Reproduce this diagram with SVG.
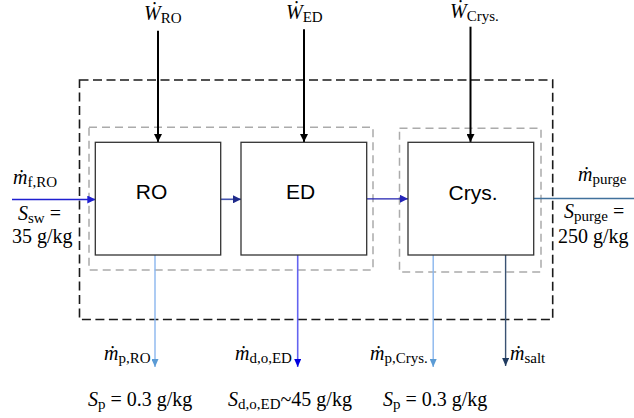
<svg xmlns="http://www.w3.org/2000/svg" width="634" height="418" viewBox="0 0 634 418">
<style>
.box{fill:#fff;stroke:#333;stroke-width:1.3}
.outer{fill:none;stroke:#1a1a1a;stroke-width:1.6;stroke-dasharray:9 4.5}
.sub{fill:none;stroke:#ababab;stroke-width:1.5;stroke-dasharray:8 5}
.lbl{font-family:"Liberation Sans",Arial,sans-serif;font-size:21px;fill:#000;text-anchor:middle}
.m{font-family:"Liberation Serif","DejaVu Serif",serif;font-size:20px;fill:#000}
.i{font-style:italic}
.s{font-size:15px}
.w{stroke:#000;stroke-width:2;fill:none}
</style>
<defs>
<marker id="hk" viewBox="0 0 8 8" refX="8" refY="4" markerWidth="8" markerHeight="8" markerUnits="userSpaceOnUse" orient="auto"><path d="M0,0L8,4L0,8z" fill="#000"/></marker>
<marker id="hb" viewBox="0 0 8 8" refX="8" refY="4" markerWidth="8" markerHeight="8" markerUnits="userSpaceOnUse" orient="auto"><path d="M0,0L8,4L0,8z" fill="#1f1fd0"/></marker>
<marker id="hn" viewBox="0 0 8 8" refX="8" refY="4" markerWidth="8" markerHeight="8" markerUnits="userSpaceOnUse" orient="auto"><path d="M0,0L8,4L0,8z" fill="#1f2a8a"/></marker>
<marker id="hd" viewBox="0 0 8 8" refX="8" refY="4" markerWidth="8" markerHeight="8" markerUnits="userSpaceOnUse" orient="auto"><path d="M0,0L8,4L0,8z" fill="#2424b8"/></marker>
<marker id="hl" viewBox="0 0 8 7" refX="8" refY="3.5" markerWidth="8" markerHeight="7" markerUnits="userSpaceOnUse" orient="auto"><path d="M0,0L8,3.5L0,7z" fill="#5b9bd5"/></marker>
<marker id="hv" viewBox="0 0 8 7" refX="8" refY="3.5" markerWidth="8" markerHeight="7" markerUnits="userSpaceOnUse" orient="auto"><path d="M0,0L8,3.5L0,7z" fill="#0000e0"/></marker>
<marker id="hs" viewBox="0 0 8 7" refX="8" refY="3.5" markerWidth="8" markerHeight="7" markerUnits="userSpaceOnUse" orient="auto"><path d="M0,0L8,3.5L0,7z" fill="#1f3a5f"/></marker>
</defs>
<rect width="634" height="418" fill="#fff"/>

<g id="boundary">
<rect class="outer" x="79.5" y="80" width="473.2" height="239.5"/>
<rect class="sub" x="89" y="127.3" width="284" height="142.7"/>
<rect class="sub" x="399.5" y="128.3" width="141.5" height="143.7"/>
</g>

<g id="connectors">
<line class="w" x1="158" y1="30.7" x2="158" y2="142" marker-end="url(#hk)"/>
<line class="w" x1="304" y1="29.3" x2="304" y2="142" marker-end="url(#hk)"/>
<line class="w" x1="470.5" y1="26.7" x2="470.5" y2="142" marker-end="url(#hk)"/>
<line x1="12" y1="199.5" x2="95.3" y2="199.5" stroke="#1f1fd0" stroke-width="1.3" marker-end="url(#hb)"/>
<line x1="220.7" y1="199.3" x2="241" y2="199.3" stroke="#4454b0" stroke-width="1.6" marker-end="url(#hn)"/>
<line x1="366.7" y1="198.8" x2="408" y2="198.8" stroke="#2020b0" stroke-width="1.3" marker-end="url(#hd)"/>
<line x1="533.7" y1="198.5" x2="634" y2="198.5" stroke="#41719c" stroke-width="1.3"/>
<line x1="155" y1="255" x2="155" y2="367" stroke="#8ab6ee" stroke-width="1.4" marker-end="url(#hl)"/>
<line x1="297.7" y1="255" x2="297.7" y2="367" stroke="#6464f0" stroke-width="1.6" marker-end="url(#hv)"/>
<line x1="433.2" y1="255" x2="433.2" y2="367" stroke="#8ab6ee" stroke-width="1.4" marker-end="url(#hl)"/>
<line x1="505.6" y1="255" x2="505.6" y2="366" stroke="#3a5272" stroke-width="1.4" marker-end="url(#hs)"/>
</g>

<g id="RO">
<rect class="box" x="95.3" y="142.3" width="125.4" height="112.7"/>
<text class="lbl" x="151.5" y="199">RO</text>
</g>
<g id="ED">
<rect class="box" x="241" y="142.3" width="125.7" height="112.7"/>
<text class="lbl" x="300.5" y="199">ED</text>
</g>
<g id="Crys">
<rect class="box" x="408" y="142.3" width="125.7" height="112.7"/>
<text class="lbl" x="473" y="200">Crys.</text>
</g>

<g id="labels" class="m">
<text x="144" y="20"><tspan class="i">Ẇ</tspan><tspan class="s" dy="3">RO</tspan></text>
<text x="286" y="19"><tspan class="i">Ẇ</tspan><tspan class="s" dy="3">ED</tspan></text>
<text x="450" y="18"><tspan class="i">Ẇ</tspan><tspan class="s" dy="3">Crys.</tspan></text>

<text x="13" y="184"><tspan class="i">ṁ</tspan><tspan class="s" dy="3">f,RO</tspan></text>
<text x="18" y="220"><tspan class="i">S</tspan><tspan class="s" dy="2.5">sw</tspan><tspan dy="-2.5"> =</tspan></text>
<text x="12" y="243">35 g/kg</text>

<text x="578" y="181"><tspan class="i">ṁ</tspan><tspan class="s" dy="3">purge</tspan></text>
<text x="564" y="218"><tspan class="i">S</tspan><tspan class="s" dy="2.5">purge</tspan><tspan dy="-2.5"> =</tspan></text>
<text x="558" y="243">250 g/kg</text>

<text x="104" y="360"><tspan class="i">ṁ</tspan><tspan class="s" dy="3">p,RO</tspan></text>
<text x="235" y="360"><tspan class="i">ṁ</tspan><tspan class="s" dy="3">d,o,ED</tspan></text>
<text x="370" y="360"><tspan class="i">ṁ</tspan><tspan class="s" dy="3">p,Crys.</tspan></text>
<text x="510" y="360"><tspan class="i">ṁ</tspan><tspan class="s" dy="3">salt</tspan></text>

<text x="88" y="406"><tspan class="i">S</tspan><tspan class="s" dy="3">p</tspan><tspan dy="-3"> = 0.3 g/kg</tspan></text>
<text x="228" y="406"><tspan class="i">S</tspan><tspan class="s" dy="3">d,o,ED</tspan><tspan dy="-3">~45 g/kg</tspan></text>
<text x="383" y="406"><tspan class="i">S</tspan><tspan class="s" dy="3">p</tspan><tspan dy="-3"> = 0.3 g/kg</tspan></text>
</g>
</svg>
